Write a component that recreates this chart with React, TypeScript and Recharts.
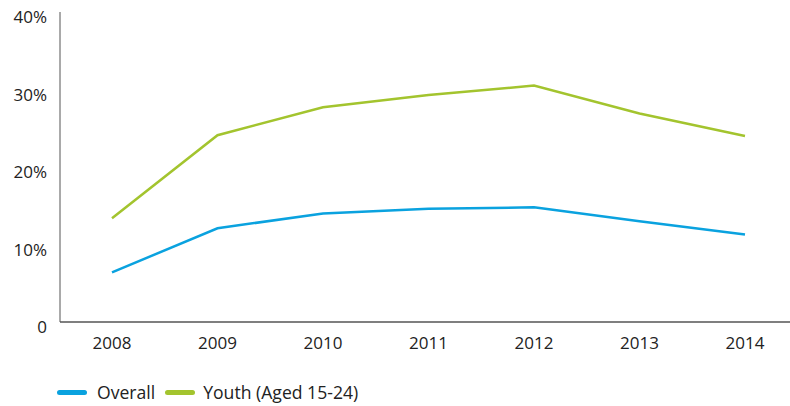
import React from 'react';
import { LineChart, Line, XAxis, YAxis, Legend } from 'recharts';

const years = ['2008', '2009', '2010', '2011', '2012', '2013', '2014'];
const overall = [6.4, 12.1, 14.0, 14.6, 14.8, 13.0, 11.3];
const youth = [13.4, 24.1, 27.7, 29.3, 30.5, 26.9, 24.0];
const yTicks = [0, 10, 20, 30, 40];

const data = years.map((y, i) => ({ year: y, overall: overall[i], youth: youth[i] }));

const BLUE = '#0aa2df';
const GREEN = '#a3c42e';
const FONT = '"Open Sans", sans-serif';

const LegendContent = () => (
  <div style={{ display: 'flex', alignItems: 'center', paddingLeft: 57, paddingTop: 14, fontFamily: FONT, fontSize: 17.6, color: '#222' }}>
    <span style={{ display: 'inline-block', width: 30, height: 5, borderRadius: 3, background: BLUE, marginRight: 10 }} />
    <span style={{ marginRight: 10 }}>Overall</span>
    <span style={{ display: 'inline-block', width: 30, height: 5, borderRadius: 3, background: GREEN, marginRight: 8 }} />
    <span>Youth (Aged 15-24)</span>
  </div>
);

export default function App() {
  return (
    <div style={{ position: 'absolute', left: 0, top: 0, width: 790, height: 406, background: '#fff' }}>
      <LineChart width={790} height={406} data={data} margin={{ top: 12, right: 0, bottom: 0, left: 0 }}>
        <XAxis
          dataKey="year"
          scale="point"
          padding={{ left: 52, right: 45 }}
          axisLine={{ stroke: '#555', strokeWidth: 1.5 }}
          tickLine={false}
          tickMargin={9}
          height={44}
          tick={{ fill: '#222', fontSize: 17, fontFamily: FONT }}
        />
        <YAxis
          domain={[0, 40]}
          ticks={yTicks}
          width={60}
          axisLine={{ stroke: '#555', strokeWidth: 1 }}
          tickLine={false}
          tickMargin={7}
          tick={{ fill: '#222', fontSize: 17, fontFamily: FONT, dy: 5 }}
          tickFormatter={(v: number) => (v === 0 ? '0' : `${v}%`)}
        />
        <Legend verticalAlign="bottom" height={40} content={<LegendContent />} />
        <Line dataKey="overall" stroke={BLUE} strokeWidth={2.5} dot={false} isAnimationActive={false} />
        <Line dataKey="youth" stroke={GREEN} strokeWidth={2.5} dot={false} isAnimationActive={false} />
      </LineChart>
    </div>
  );
}
